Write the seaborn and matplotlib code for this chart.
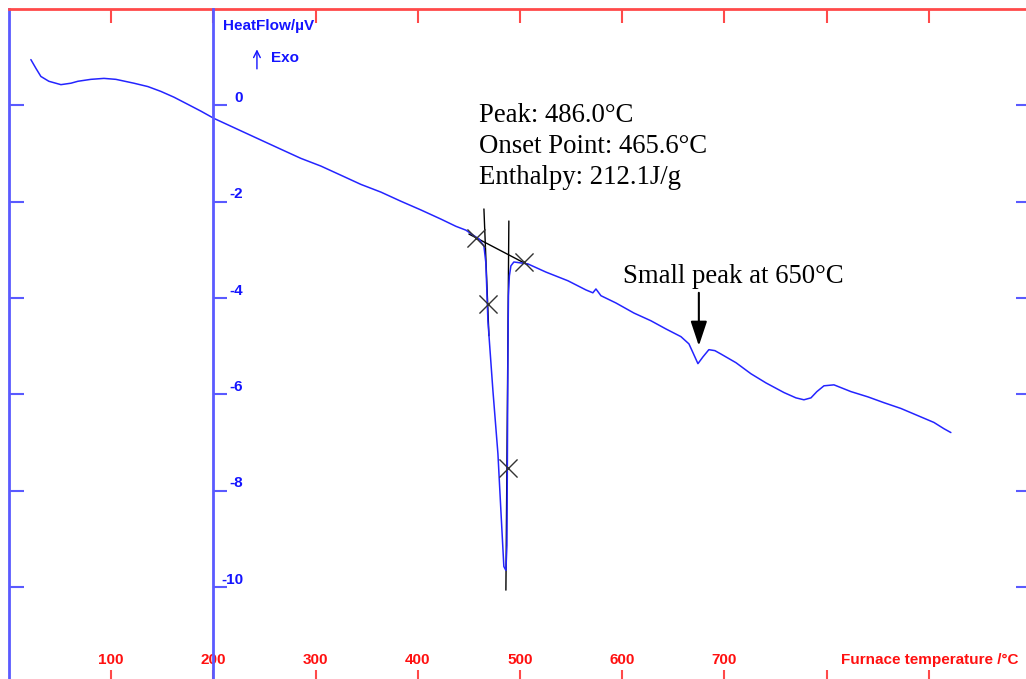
import matplotlib
matplotlib.use("Agg")
import matplotlib.pyplot as plt
import matplotlib.transforms as mtransforms
import pandas as pd
import seaborn as sns

# DTA trace: furnace temperature (°C) vs heat flow (µV)
temperature = [
    21.4, 26.3, 31.2, 39.0, 50.8, 60.6, 67.4, 80.1, 92.9, 104.6,
    122.2, 135.9, 148.6, 161.4, 175.1, 187.8, 200.5, 224.0, 246.5, 266.0,
    285.6, 305.2, 324.8, 344.3, 363.9, 383.5, 403.0, 422.6, 437.3, 447.1,
    453.9, 459.8, 464.7, 466.6, 468.6, 473.5, 478.4, 481.3, 484.2, 486.2,
    487.2, 487.7, 488.2, 488.7, 489.6, 491.1, 494.0, 500.9, 507.7, 525.4,
    546.9, 564.5, 571.3, 574.3, 579.2, 593.8, 611.5, 628.1, 642.8, 657.5,
    665.3, 669.2, 674.1, 679.0, 684.8, 690.7, 696.6, 711.3, 726.0, 740.7,
    758.3, 770.0, 777.8, 784.7, 790.5, 797.4, 807.2, 823.8, 840.5, 856.1,
    872.7, 889.4, 905.0, 914.8, 921.6,
]
heat_flow = [
    0.95, 0.77, 0.60, 0.50, 0.43, 0.46, 0.50, 0.54, 0.56, 0.54,
    0.46, 0.39, 0.29, 0.17, 0.02, -0.12, -0.27, -0.50, -0.72, -0.91,
    -1.10, -1.26, -1.45, -1.64, -1.80, -1.99, -2.17, -2.36, -2.51, -2.59,
    -2.69, -2.77, -2.92, -3.27, -4.47, -5.92, -7.23, -8.41, -9.57, -9.65,
    -9.13, -7.16, -5.09, -3.95, -3.54, -3.33, -3.25, -3.27, -3.29, -3.46,
    -3.64, -3.83, -3.89, -3.81, -3.95, -4.10, -4.31, -4.47, -4.64, -4.80,
    -4.95, -5.13, -5.36, -5.22, -5.07, -5.09, -5.16, -5.34, -5.57, -5.76,
    -5.96, -6.07, -6.11, -6.07, -5.94, -5.82, -5.80, -5.94, -6.05, -6.17,
    -6.29, -6.44, -6.58, -6.71, -6.79,
]

x_ticks = [100, 200, 300, 400, 500, 600, 700, 800, 900]
x_tick_labels = ["100", "200", "300", "400", "500", "600", "700", "", ""]
y_ticks = [0, -2, -4, -6, -8, -10]
y_tick_labels = ["0", "-2", "-4", "-6", "-8", "-10"]

# Peak evaluation construction lines and points
baseline_t = [450.0, 507.7]
baseline_v = [-2.67, -3.31]
onset_tangent_t = [464.7, 469.6]
onset_tangent_v = [-2.15, -4.78]
return_tangent_t = [489.1, 486.2]
return_tangent_v = [-2.40, -10.06]
marker_t = [456.8, 468.6, 488.2, 503.8]
marker_v = [-2.75, -4.12, -7.52, -3.25]

peak_temp = 486.0
onset_temp = 465.6
enthalpy = 212.1
small_peak_label_temp = 650
small_peak_pos = 675.0

BLUE_TEXT = "#1414ff"
BLUE_LINE = "#5a5aff"
RED_TEXT = "#ff1010"
RED_LINE = "#ff4a4a"

sns.set_theme(style="white")
plt.rcParams["font.family"] = ["Liberation Sans", "DejaVu Sans"]

fig = plt.figure(figsize=(10.26, 6.79), dpi=100)
ax = fig.add_axes([9 / 1026, -4.6 / 679, 1022 / 1026, 674.6 / 679])

# Evaluation lines below the trace
ax.plot(baseline_t, baseline_v, color="black", lw=1.0, zorder=2)
ax.plot(onset_tangent_t, onset_tangent_v, color="black", lw=1.0, zorder=2)
ax.plot(return_tangent_t, return_tangent_v, color="black", lw=1.0, zorder=2)
sns.scatterplot(x=marker_t, y=marker_v, ax=ax, marker="x", s=170,
                color="#333333", linewidth=1.0, zorder=4)

df = pd.DataFrame({"temperature": temperature, "heat_flow": heat_flow})
sns.lineplot(data=df, x="temperature", y="heat_flow", ax=ax, color="#2424ff",
             lw=1.1, sort=False, estimator=None, zorder=3)

ax.set_xlim(0, 1000)
ax.set_ylim(-12, 2)
ax.set_xlabel("")
ax.set_ylabel("")

# Inner heat-flow scale placed at 200 °C
ax2 = ax.twinx()
ax2.set_ylim(ax.get_ylim())
for s in ["left", "top", "bottom"]:
    ax2.spines[s].set_visible(False)
ax2.spines["right"].set_position(("data", 200))
ax2.spines["right"].set_color(BLUE_LINE)
ax2.spines["right"].set_linewidth(2)
ax2.set_yticks(y_ticks, y_tick_labels, fontweight="bold")
ax2.tick_params(axis="y", direction="out", length=10, width=1.5,
                color=BLUE_LINE, labelcolor=BLUE_TEXT, labelsize=11, pad=11.5)
shift_up = mtransforms.ScaledTranslation(0, 0.09, fig.dpi_scale_trans)
for lbl in ax2.get_yticklabels():
    lbl.set_horizontalalignment("right")
    lbl.set_transform(lbl.get_transform() + shift_up)

# Frame
ax.spines["left"].set_color(BLUE_LINE)
ax.spines["right"].set_color(BLUE_LINE)
ax.spines["top"].set_color(RED_LINE)
ax.spines["bottom"].set_color(RED_LINE)
for s in ax.spines.values():
    s.set_linewidth(2)
ax.set_xticks(x_ticks, x_tick_labels, fontweight="bold")
ax.tick_params(axis="x", direction="in", length=10, width=1.5, color=RED_LINE,
               top=True, bottom=True, labelcolor=RED_TEXT, labelsize=11, pad=-22)
ax.set_yticks(y_ticks)
ax.tick_params(axis="y", direction="in", length=11, width=1.5, color=BLUE_LINE,
               left=True, right=True, labelleft=False, labelright=False)

# Axis captions
ax.text(209.3, 1.64, "HeatFlow/µV", color=BLUE_TEXT, fontweight="bold",
        fontsize=11, ha="left", va="center")
ax.annotate("", xy=(242.6, 1.22), xytext=(242.6, 0.70),
            arrowprops=dict(arrowstyle="->", color=BLUE_TEXT, lw=1.0))
ax.text(256.3, 0.99, "Exo", color=BLUE_TEXT, fontweight="bold",
        fontsize=11, ha="left", va="center")
ax.text(988, -11.51, "Furnace temperature /°C", color=RED_TEXT,
        fontweight="bold", fontsize=11, ha="right", va="center")

# Peak results
serif = ["Liberation Serif", "DejaVu Serif"]
ax.text(459.8, -0.35, f"Peak: {peak_temp:.1f}°C", family=serif,
        fontsize=19.3, ha="left", va="baseline", color="black")
ax.text(459.8, -0.99, f"Onset Point: {onset_temp:.1f}°C", family=serif,
        fontsize=19.3, ha="left", va="baseline", color="black")
ax.text(459.8, -1.64, f"Enthalpy: {enthalpy:.1f}J/g", family=serif,
        fontsize=19.3, ha="left", va="baseline", color="black")

ax.text(600.7, -3.69, f"Small peak at {small_peak_label_temp}°C", family=serif,
        fontsize=19.3, ha="left", va="baseline", color="black")
ax.annotate("", xy=(small_peak_pos, -4.99), xytext=(small_peak_pos, -3.89),
            arrowprops=dict(arrowstyle="-|>,head_length=0.6,head_width=0.2",
                            color="black", lw=1.5, mutation_scale=25,
                            shrinkA=0, shrinkB=0))

fig.savefig("out.png", dpi=100)
